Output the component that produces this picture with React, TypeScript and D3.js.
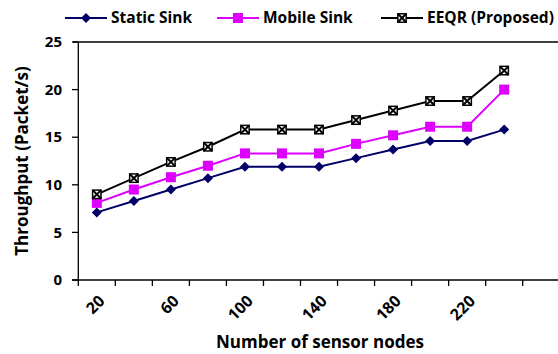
import React from 'react';
import * as d3 from 'd3';

const nodes = [20, 40, 60, 80, 100, 120, 140, 160, 180, 200, 220, 240];
const tickLabels = ['20', '60', '100', '140', '180', '220'];
const yTicks = [0, 5, 10, 15, 20, 25];

const staticSink = [7.1, 8.3, 9.5, 10.7, 11.9, 11.9, 11.9, 12.8, 13.7, 14.6, 14.6, 15.8];
const mobileSink = [8.1, 9.5, 10.8, 12.0, 13.3, 13.3, 13.3, 14.3, 15.2, 16.1, 16.1, 20.0];
const eeqr = [9.0, 10.7, 12.4, 14.0, 15.8, 15.8, 15.8, 16.8, 17.8, 18.8, 18.8, 22.0];

const W = 558;
const H = 354;
const FONT = '"Open Sans", Lato, sans-serif';

const series = [
  { name: 'Static Sink', values: staticSink, color: '#000066', marker: 'diamond' },
  { name: 'Mobile Sink', values: mobileSink, color: '#dd00ff', marker: 'square' },
  { name: 'EEQR (Proposed)', values: eeqr, color: '#000000', marker: 'cross' },
];

// legend line start x for each entry
const legendX = [65, 217, 381];

const Marker = ({ type, x, y, color }) => {
  if (type === 'diamond') {
    const s = 5;
    return <path d={`M${x},${y - s}L${x + s},${y}L${x},${y + s}L${x - s},${y}Z`} fill={color} />;
  }
  if (type === 'square') {
    const s = 5;
    return <rect x={x - s} y={y - s} width={s * 2} height={s * 2} fill={color} />;
  }
  const s = 4.2;
  return (
    <g>
      <rect x={x - s} y={y - s} width={s * 2} height={s * 2} fill="#fff" stroke="#000" strokeWidth={1.5} />
      <path d={`M${x - s},${y - s}L${x + s},${y + s}M${x + s},${y - s}L${x - s},${y + s}`} stroke="#000" strokeWidth={2} />
    </g>
  );
};

export default function App() {
  const x = d3.scaleBand<number>().domain(nodes).range([78.3, 522.7]);
  const y = d3.scaleLinear().domain([0, 25]).range([280, 42]);
  const cx = (d: number) => (x(d) ?? 0) + x.bandwidth() / 2;
  const line = d3
    .line<number>()
    .x((_, i) => cx(nodes[i]))
    .y((d) => y(d));

  const tickXs = nodes.map((d) => x(d) ?? 0).concat([x.range()[1]]);

  return (
    <svg width={W} height={H} style={{ position: 'absolute', left: 0, top: 0, background: '#fff' }} fontFamily={FONT}>
      {/* legend */}
      {series.map((s, i) => (
        <g key={s.name}>
          <line x1={legendX[i]} x2={legendX[i] + 42} y1={18} y2={18} stroke={s.color} strokeWidth={2} />
          <Marker type={s.marker} x={legendX[i] + 21} y={18} color={s.color} />
          <text x={legendX[i] + 46} y={18} dy="0.35em" fontSize={15.5} fontWeight="bold" fill="#000">
            {s.name}
          </text>
        </g>
      ))}

      {/* top border line */}
      <line x1={73} x2={W} y1={y(25)} y2={y(25)} stroke="#000" strokeWidth={1.3} />

      {/* y axis */}
      <line x1={78.3} x2={78.3} y1={y(25)} y2={y(0)} stroke="#000" strokeWidth={1.3} />
      {yTicks.map((t) => (
        <g key={t}>
          <line x1={72} x2={78.3} y1={y(t)} y2={y(t)} stroke="#000" strokeWidth={1.3} />
          <text x={62} y={y(t)} dy="0.35em" textAnchor="end" fontSize={15} fontWeight="bold">
            {t}
          </text>
        </g>
      ))}

      {/* x axis */}
      <line x1={72} x2={W} y1={y(0)} y2={y(0)} stroke="#000" strokeWidth={1.3} />
      {tickXs.map((t, i) => (
        <line key={i} x1={t} x2={t} y1={y(0)} y2={y(0) + 6} stroke="#000" strokeWidth={1.3} />
      ))}
      {nodes
        .filter((d) => tickLabels.includes(String(d)))
        .map((d) => (
          <text
            key={d}
            transform={`translate(${cx(d) + 5},${y(0) + 18}) rotate(-45)`}
            textAnchor="end"
            dy="0.35em"
            fontSize={16}
            fontWeight="bold"
          >
            {d}
          </text>
        ))}

      {/* axis titles */}
      <text x={320} y={348} textAnchor="middle" fontSize={17} fontWeight="bold">
        Number of sensor nodes
      </text>
      <text transform={`translate(28,${(y(0) + y(25)) / 2}) rotate(-90)`} textAnchor="middle" fontSize={17} fontWeight="bold">
        Throughput (Packet/s)
      </text>

      {/* series */}
      {series.map((s) => (
        <g key={s.name}>
          <path d={line(s.values) ?? ''} fill="none" stroke={s.color} strokeWidth={2} />
          {s.values.map((v, i) => (
            <Marker key={i} type={s.marker} x={cx(nodes[i])} y={y(v)} color={s.color} />
          ))}
        </g>
      ))}
    </svg>
  );
}
